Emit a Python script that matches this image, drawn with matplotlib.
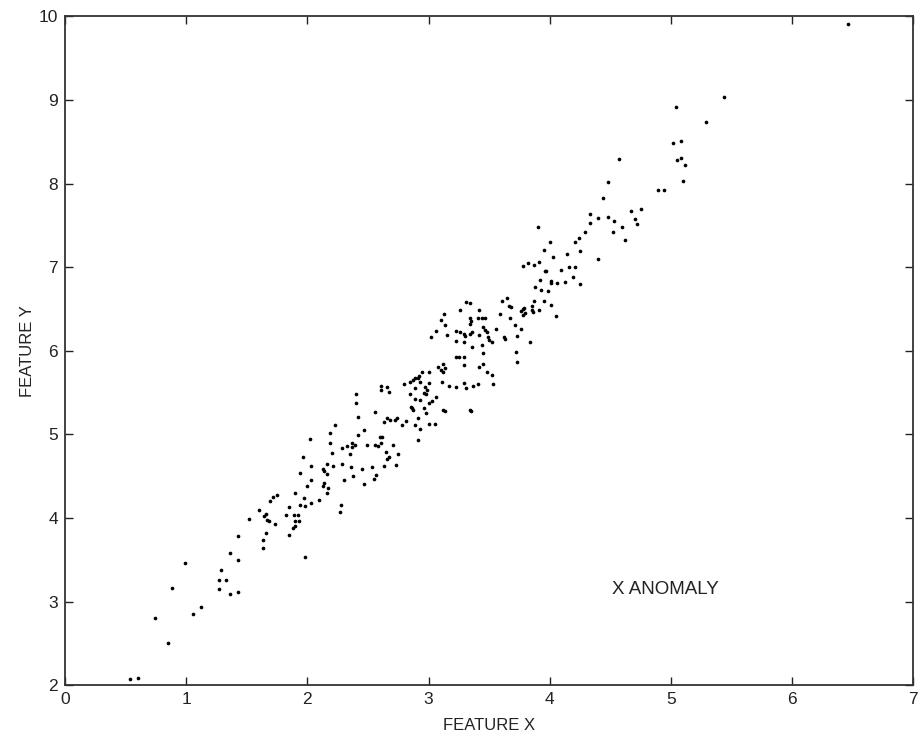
import matplotlib
matplotlib.use("Agg")
import matplotlib.pyplot as plt
import numpy as np

plt.rcParams['font.family'] = ['Liberation Sans Narrow', 'Liberation Sans', 'DejaVu Sans']

# points, grouped by x range
pts_low = [(0.54, 2.08), (0.60, 2.09), (0.74, 2.80), (0.85, 2.50), (0.88, 3.16), (0.99, 3.46),
           (1.06, 2.85), (1.12, 2.94), (1.27, 3.15), (1.27, 3.26), (1.33, 3.26), (1.29, 3.38),
           (1.36, 3.09), (1.43, 3.11), (1.36, 3.58), (1.43, 3.50), (1.43, 3.78), (1.52, 3.99),
           (1.60, 4.09), (1.63, 3.74), (1.63, 3.64), (1.66, 3.82), (1.64, 4.02), (1.66, 4.05),
           (1.67, 3.98), (1.68, 3.96), (1.73, 3.93), (1.69, 4.20), (1.72, 4.25), (1.75, 4.28),
           (1.82, 4.04), (1.85, 4.13), (1.85, 3.80), (1.88, 3.88), (1.90, 3.90), (1.89, 4.04),
           (1.92, 4.04), (1.90, 3.96), (1.93, 3.96), (1.90, 4.30), (1.94, 4.15), (1.98, 4.14),
           (1.98, 3.53)]

pts_mid1 = [(1.96, 4.73), (1.94, 4.54), (2.02, 4.95), (2.03, 4.62), (2.03, 4.45), (2.00, 4.38),
            (1.97, 4.24), (2.03, 4.18), (2.10, 4.21), (2.16, 4.65), (2.13, 4.59), (2.14, 4.56),
            (2.16, 4.53), (2.21, 4.62), (2.13, 4.38), (2.14, 4.42), (2.17, 4.36), (2.16, 4.30),
            (2.19, 5.02), (2.19, 4.90), (2.20, 4.78), (2.23, 5.11), (2.29, 4.64), (2.29, 4.84),
            (2.30, 4.45), (2.28, 4.16), (2.27, 4.07), (2.33, 4.86), (2.37, 4.90), (2.37, 4.85),
            (2.39, 4.87), (2.35, 4.76), (2.36, 4.61), (2.38, 4.50), (2.40, 5.48), (2.40, 5.37),
            (2.42, 5.21), (2.42, 4.99), (2.47, 5.05), (2.45, 4.59), (2.47, 4.41), (2.49, 4.87),
            (2.53, 4.61), (2.56, 5.27), (2.56, 4.87), (2.58, 4.86), (2.55, 4.47), (2.57, 4.52),
            (2.60, 4.97), (2.62, 4.97), (2.61, 4.90), (2.65, 4.79), (2.67, 4.73), (2.66, 4.70),
            (2.63, 4.62)]

pts_mid2 = [(2.61, 5.58), (2.61, 5.53), (2.66, 5.57), (2.67, 5.51), (2.63, 5.15), (2.66, 5.19),
            (2.68, 5.17), (2.72, 5.17), (2.74, 5.19), (2.78, 5.11), (2.81, 5.16), (2.71, 4.87),
            (2.75, 4.76), (2.73, 4.63), (2.80, 5.60), (2.85, 5.63), (2.87, 5.65), (2.89, 5.67),
            (2.91, 5.68), (2.92, 5.70), (2.85, 5.48), (2.89, 5.55), (2.89, 5.42), (2.855, 5.33),
            (2.86, 5.31), (2.87, 5.29), (2.91, 5.19), (2.89, 5.11), (2.91, 4.93), (2.93, 5.07)]

pts_mid3 = [(2.95, 5.75), (3.00, 5.75), (2.93, 5.63), (2.97, 5.57), (3.00, 5.62), (2.96, 5.50),
            (2.98, 5.48), (2.99, 5.53), (2.93, 5.41), (2.96, 5.32), (3.00, 5.38), (3.03, 5.40),
            (3.06, 5.45), (2.98, 5.25), (3.00, 5.12), (3.05, 5.12), (3.08, 5.81), (3.10, 5.77),
            (3.12, 5.84), (3.14, 5.79), (3.12, 5.75), (3.11, 5.63), (3.17, 5.58), (3.23, 5.57),
            (3.29, 5.62), (3.31, 5.56), (3.37, 5.58), (3.41, 5.60), (3.53, 5.60), (3.23, 5.92),
            (3.25, 5.93), (3.29, 5.93), (3.29, 5.83), (3.42, 5.81), (3.45, 5.84), (3.48, 5.75),
            (3.52, 5.71), (3.45, 5.97), (3.36, 6.05), (3.44, 6.07), (3.02, 6.16), (3.06, 6.24),
            (3.15, 6.19), (3.10, 6.37), (3.14, 6.31), (3.13, 6.44), (3.23, 6.24), (3.26, 6.23),
            (3.29, 6.20), (3.30, 6.18), (3.23, 6.12), (3.29, 6.11), (3.26, 6.49), (3.31, 6.58),
            (3.34, 6.57), (3.42, 6.49), (3.34, 6.39), (3.35, 6.36), (3.34, 6.32), (3.36, 6.22),
            (3.34, 6.20), (3.41, 6.39), (3.44, 6.39), (3.47, 6.39), (3.42, 6.19), (3.45, 6.29),
            (3.47, 6.25), (3.48, 6.22), (3.49, 6.17), (3.50, 6.13), (3.52, 6.11), (3.56, 6.26),
            (3.59, 6.44), (3.61, 6.59), (3.65, 6.63), (3.66, 6.54), (3.68, 6.52), (3.67, 6.39),
            (3.62, 6.17), (3.63, 6.14), (3.71, 6.31), (3.73, 6.18), (3.76, 6.26), (3.72, 5.98),
            (3.73, 5.87), (3.76, 6.48), (3.78, 6.50), (3.80, 6.45), (3.79, 6.51), (3.78, 6.43),
            (3.85, 6.53), (3.85, 6.49), (3.86, 6.46), (3.91, 6.49), (3.87, 6.59), (3.88, 6.76),
            (3.84, 6.10), (3.78, 7.01), (3.82, 7.05), (3.87, 7.03), (3.91, 7.06), (3.90, 7.48),
            (3.92, 6.85), (3.12, 5.29), (3.14, 5.28), (3.34, 5.29), (3.35, 5.28)]

pts_high = [(3.93, 6.73), (3.99, 6.72), (3.95, 6.59), (4.01, 6.55), (4.05, 6.42), (4.01, 6.84),
            (4.01, 6.81), (4.06, 6.81), (4.13, 6.82), (4.25, 6.80), (3.96, 6.95), (3.97, 6.95),
            (4.09, 6.97), (4.16, 7.00), (4.21, 7.00), (4.19, 6.88), (4.00, 7.30), (3.95, 7.21),
            (4.03, 7.12), (4.14, 7.16), (4.25, 7.19), (4.21, 7.30), (4.24, 7.35), (4.29, 7.42),
            (4.40, 7.10), (4.33, 7.63), (4.33, 7.53), (4.40, 7.59), (4.48, 7.60), (4.53, 7.55),
            (4.52, 7.42), (4.60, 7.48), (4.62, 7.32), (4.67, 7.67), (4.70, 7.57), (4.72, 7.52),
            (4.75, 7.70), (4.44, 7.83), (4.48, 8.02), (4.57, 8.29), (4.89, 7.92), (4.94, 7.92),
            (5.02, 8.48), (5.08, 8.51), (5.05, 8.28), (5.08, 8.31), (5.12, 8.22), (5.10, 8.03),
            (5.04, 8.92), (5.29, 8.73), (5.44, 9.04), (6.46, 9.91)]

x_ticks = [0, 1, 2, 3, 4, 5, 6, 7]
y_ticks = [2, 3, 4, 5, 6, 7, 8, 9, 10]

pts = np.array(pts_low + pts_mid1 + pts_mid2 + pts_mid3 + pts_high)

fig = plt.figure(figsize=(9.22, 7.4), dpi=100)
ax = fig.add_axes([0.0705, 0.074, 0.920, 0.904])

ax.scatter(pts[:, 0], pts[:, 1], s=7, color="black", marker="o", linewidths=0)

ax.set_xlim(0, 7)
ax.set_ylim(2, 10)
ax.set_xticks(x_ticks)
ax.set_yticks(y_ticks)
ax.tick_params(direction="in", top=True, right=True, length=6, width=1,
               labelsize=12.5, pad=5, colors="#222222")
for s in ax.spines.values():
    s.set_linewidth(1.3)
    s.set_color("#333333")

ax.set_xlabel("FEATURE X", fontsize=12, labelpad=8, color="#222222")
ax.set_ylabel("FEATURE Y", fontsize=12, labelpad=3, color="#222222")
ax.text(4.51, 3.15, "X ANOMALY", fontsize=13.5, va="center", ha="left", color="#222222")

fig.savefig("out.png", dpi=100)
